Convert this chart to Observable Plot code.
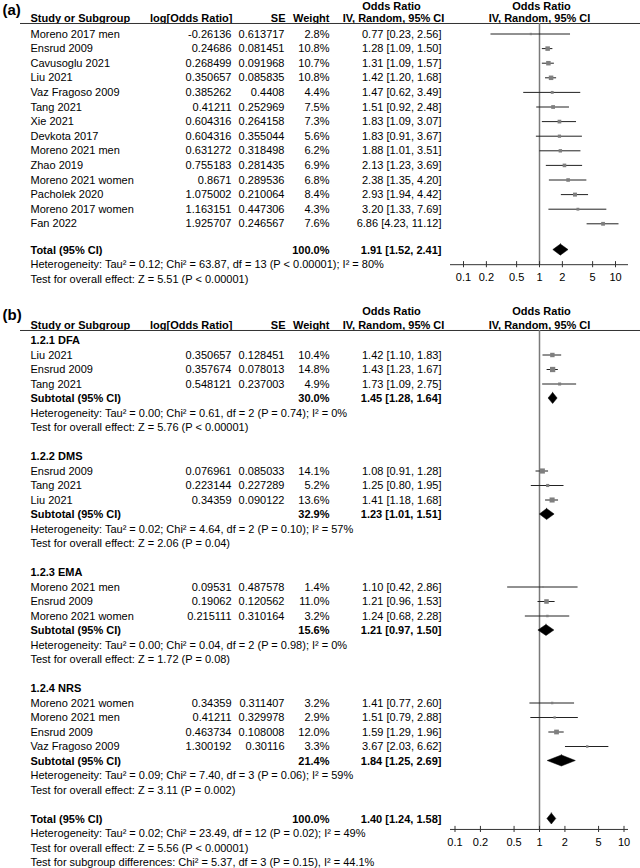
<!DOCTYPE html>
<html><head><meta charset="utf-8">
<script src="https://cdn.jsdelivr.net/npm/d3@7"></script>
<script src="https://cdn.jsdelivr.net/npm/@observablehq/plot@0.6"></script>
<style>
html,body{margin:0;padding:0;background:#fff;}
#chart svg{display:block;}
</style></head><body><div id="chart"></div>
<script>
// ---------- Panel (a) data ----------
const aStudies = ["Moreno 2017 men","Ensrud 2009","Cavusoglu 2021","Liu 2021","Vaz Fragoso 2009","Tang 2021","Xie 2021","Devkota 2017","Moreno 2021 men","Zhao 2019","Moreno 2021 women","Pacholek 2020","Moreno 2017 women","Fan 2022"];
const aLogOR = [-0.26136,0.24686,0.268499,0.350657,0.385262,0.41211,0.604316,0.604316,0.631272,0.755183,0.8671,1.075002,1.163151,1.925707];
const aSE = [0.613717,0.081451,0.091968,0.085835,0.4408,0.252969,0.264158,0.355044,0.318498,0.281435,0.289536,0.210064,0.447306,0.246567];
const aWeight = [2.8,10.8,10.7,10.8,4.4,7.5,7.3,5.6,6.2,6.9,6.8,8.4,4.3,7.6];
const aOR = [0.77,1.28,1.31,1.42,1.47,1.51,1.83,1.83,1.88,2.13,2.38,2.93,3.20,6.86];
const aLo = [0.23,1.09,1.09,1.20,0.62,0.92,1.09,0.91,1.01,1.23,1.35,1.94,1.33,4.23];
const aHi = [2.56,1.50,1.57,1.68,3.49,2.48,3.07,3.67,3.51,3.69,4.20,4.42,7.69,11.12];
const aTotal = [100.0, 1.91, 1.52, 2.41];
const aNotes = ["Heterogeneity: Tau² = 0.12; Chi² = 63.87, df = 13 (P < 0.00001); I² = 80%",
                "Test for overall effect: Z = 5.51 (P < 0.00001)"];

// ---------- Panel (b) data ----------
const bGroups = ["1.2.1 DFA","1.2.2 DMS","1.2.3 EMA","1.2.4 NRS"];
const bStudyGroup = [0,0,0,1,1,1,2,2,2,3,3,3,3];
const bStudies = ["Liu 2021","Ensrud 2009","Tang 2021","Ensrud 2009","Tang 2021","Liu 2021","Moreno 2021 men","Ensrud 2009","Moreno 2021 women","Moreno 2021 women","Moreno 2021 men","Ensrud 2009","Vaz Fragoso 2009"];
const bLogOR = [0.350657,0.357674,0.548121,0.076961,0.223144,0.34359,0.09531,0.19062,0.215111,0.34359,0.41211,0.463734,1.300192];
const bSE = [0.128451,0.078013,0.237003,0.085033,0.227289,0.090122,0.487578,0.120562,0.310164,0.311407,0.329978,0.108008,0.30116];
const bWeight = [10.4,14.8,4.9,14.1,5.2,13.6,1.4,11.0,3.2,3.2,2.9,12.0,3.3];
const bOR = [1.42,1.43,1.73,1.08,1.25,1.41,1.10,1.21,1.24,1.41,1.51,1.59,3.67];
const bLo = [1.10,1.23,1.09,0.91,0.80,1.18,0.42,0.96,0.68,0.77,0.79,1.29,2.03];
const bHi = [1.83,1.67,2.75,1.28,1.95,1.68,2.86,1.53,2.28,2.60,2.88,1.96,6.62];
const bSubWeight = [30.0,32.9,15.6,21.4];
const bSubOR = [1.45,1.23,1.21,1.84];
const bSubLo = [1.28,1.01,0.97,1.25];
const bSubHi = [1.64,1.51,1.50,2.69];
const bSubHet = ["Heterogeneity: Tau² = 0.00; Chi² = 0.61, df = 2 (P = 0.74); I² = 0%",
                 "Heterogeneity: Tau² = 0.02; Chi² = 4.64, df = 2 (P = 0.10); I² = 57%",
                 "Heterogeneity: Tau² = 0.00; Chi² = 0.04, df = 2 (P = 0.98); I² = 0%",
                 "Heterogeneity: Tau² = 0.09; Chi² = 7.40, df = 3 (P = 0.06); I² = 59%"];
const bSubTest = ["Test for overall effect: Z = 5.76 (P < 0.00001)",
                  "Test for overall effect: Z = 2.06 (P = 0.04)",
                  "Test for overall effect: Z = 1.72 (P = 0.08)",
                  "Test for overall effect: Z = 3.11 (P = 0.002)"];
const bTotal = [100.0, 1.40, 1.24, 1.58];
const bNotes = ["Heterogeneity: Tau² = 0.02; Chi² = 23.49, df = 12 (P = 0.02); I² = 49%",
                "Test for overall effect: Z = 5.56 (P < 0.00001)",
                "Test for subgroup differences: Chi² = 5.37, df = 3 (P = 0.15), I² = 44.1%"];

const axisTicks = [0.1,0.2,0.5,1,2,5,10];

// ---------- helpers ----------
const f2 = v => v.toFixed(2);
const ciTxt = (o,l,h) => `${f2(o)} [${f2(l)}, ${f2(h)}]`;
const FONT = "'Liberation Sans', Arial, Helvetica, sans-serif";

function study(name, lg, se, w, o, l, h, row) {
  return {kind:"study", row, name, logTxt: String(lg), seTxt: String(se), wTxt: w.toFixed(1)+"%", ciTxt: ciTxt(o,l,h), w, or:o, lo:l, hi:h};
}
function pooled(name, w, o, l, h, row) {
  return {kind:"pooled", row, name, wTxt: w.toFixed(1)+"%", ciTxt: ciTxt(o,l,h), or:o, lo:l, hi:h};
}

function panel({label, rows, notes, groups, height, y0, step, xDomain, xRange, axisRow, hdr}) {
  const studies = rows.filter(r => r.kind === "study");
  const pools = rows.filter(r => r.kind === "pooled");
  const diamonds = pools.flatMap((p, i) => [
    {id:i, y:p.row-0.38, x1:p.or, x2:p.or},
    {id:i, y:p.row, x1:p.lo, x2:p.hi},
    {id:i, y:p.row+0.38, x1:p.or, x2:p.or}
  ]);
  const T = (data, opts) => Plot.text(data, {frameAnchor:"left", fontSize:11, fill:"#000", ...opts});
  const hdrTxt = [
    {t:"Study or Subgroup", dx:30, a:"start", r:hdr.h2},
    {t:"log[Odds Ratio]", dx:232, a:"end", r:hdr.h2},
    {t:"SE", dx:285, a:"end", r:hdr.h2},
    {t:"Weight", dx:329, a:"end", r:hdr.h2},
    {t:"IV, Random, 95% CI", dx:393, a:"middle", r:hdr.h2},
    {t:"IV, Random, 95% CI", dx:539, a:"middle", r:hdr.h2},
    {t:"Odds Ratio", dx:391, a:"middle", r:hdr.h1},
    {t:"Odds Ratio", dx:541, a:"middle", r:hdr.h1}
  ];
  const marks = [
    // panel label
    T([label], {y: () => hdr.lab, text: d => d, dx:2, fontSize:15, fontWeight:"bold"}),
    // header
    ...hdrTxt.map(h => T([h], {y:"r", text:"t", dx:h.dx, textAnchor:h.a, fontWeight:"bold"})),
    Plot.ruleY([hdr.line], {insetLeft:20, stroke:"#333", strokeWidth:1}),
    // columns
    T(rows.filter(r => r.name && !r.bold), {y:"row", text:"name", dx:30}),
    T(rows.filter(r => r.name && r.bold), {y:"row", text:"name", dx:30, fontWeight:"bold"}),
    T(studies, {y:"row", text:"logTxt", dx:231, textAnchor:"end"}),
    T(studies, {y:"row", text:"seTxt", dx:284, textAnchor:"end"}),
    T(studies, {y:"row", text:"wTxt", dx:329, textAnchor:"end"}),
    T(studies, {y:"row", text:"ciTxt", dx:441, textAnchor:"end"}),
    T(pools, {y:"row", text:"wTxt", dx:329, textAnchor:"end", fontWeight:"bold"}),
    T(pools, {y:"row", text:"ciTxt", dx:441, textAnchor:"end", fontWeight:"bold"}),
    T(notes, {y:"row", text:"text", dx:30}),
    // forest
    Plot.ruleX([1], {y1: hdr.line, y2: axisRow, stroke:"#7a7a7a", strokeWidth:1.5}),
    Plot.ruleY(studies, {y:"row", x1:"lo", x2:"hi", stroke:"#222", strokeWidth:1}),
    Plot.dot(studies, {x:"or", y:"row", r:"w", symbol:"square", fill:"#7f7f7f", stroke:null}),
    Plot.areaX(diamonds, {y:"y", x1:"x1", x2:"x2", z:"id", fill:"#000", stroke:"#000", strokeWidth:0.5, curve:"linear"}),
    // axis
    Plot.ruleY([axisRow], {x1: () => xDomain[0], x2: () => xDomain[1], stroke:"#333", strokeWidth:1}),
    Plot.ruleX(axisTicks, {x: d => d, y1: axisRow - 0.21, y2: axisRow + 0.21, stroke:"#333", strokeWidth:1}),
    Plot.text(axisTicks, {x: d => d, y: () => axisRow, dy: 13, text: d => String(d), fontSize:11, fill:"#000"})
  ];
  return Plot.plot({
    width: 640, height,
    marginTop:0, marginRight:0, marginBottom:0, marginLeft:0,
    style: {fontFamily: FONT, background:"#fff", overflow:"visible"},
    x: {type:"log", domain:xDomain, range:xRange, axis:null},
    y: {type:"linear", domain:[0,1], range:[y0, y0+step], axis:null},
    r: {type:"sqrt", domain:[0,15], range:[0,3]},
    marks
  });
}

// ---------- build panel (a) rows ----------
const aRows = aStudies.map((s,i) => study(s, aLogOR[i], aSE[i], aWeight[i], aOR[i], aLo[i], aHi[i], i));
const aTotRow = {...pooled("Total (95% CI)", ...aTotal, 14.8), bold:true};
aRows.push(aTotRow);
const aNoteRows = aNotes.map((t,i) => ({row: 15.8 + i, text: t}));

const plotA = panel({
  label: "(a)", rows: aRows, notes: aNoteRows, height: 287, y0: 33.5, step: 14.6,
  xDomain: [Math.pow(10,-89/76), Math.pow(10,89/76)], xRange: [450, 628],
  axisRow: 15.8, hdr: {lab:-1.62, h1:-1.86, h2:-1.04, line:-0.72}
});

// ---------- build panel (b) rows ----------
const bRows = [];
const bNoteRows = [];
let s = 0;
bGroups.forEach((g, gi) => {
  bRows.push({kind:"group", row:s, name:g, bold:true});
  const idx = bStudyGroup.map((v,i) => v === gi ? i : -1).filter(i => i >= 0);
  idx.forEach((i, k) => bRows.push(study(bStudies[i], bLogOR[i], bSE[i], bWeight[i], bOR[i], bLo[i], bHi[i], s+1+k)));
  const n = idx.length;
  bRows.push({...pooled("Subtotal (95% CI)", bSubWeight[gi], bSubOR[gi], bSubLo[gi], bSubHi[gi], s+n+1), bold:true});
  bNoteRows.push({row: s+n+2, text: bSubHet[gi]});
  bNoteRows.push({row: s+n+3, text: bSubTest[gi]});
  s = s + n + 5;
});
bRows.push({...pooled("Total (95% CI)", ...bTotal, s), bold:true});
bNotes.forEach((t,i) => bNoteRows.push({row: s+1+i, text: t}));

const plotB = panel({
  label: "(b)", rows: bRows, notes: bNoteRows, height: 581, y0: 53, step: 14.5,
  xDomain: [Math.pow(10,-89/84.5), Math.pow(10,89/84.5)], xRange: [450, 628],
  axisRow: 33.72, hdr: {lab:-1.72, h1:-2.0, h2:-1.03, line:-0.69}
});

document.getElementById("chart").append(plotA, plotB);
</script>
</body></html>
